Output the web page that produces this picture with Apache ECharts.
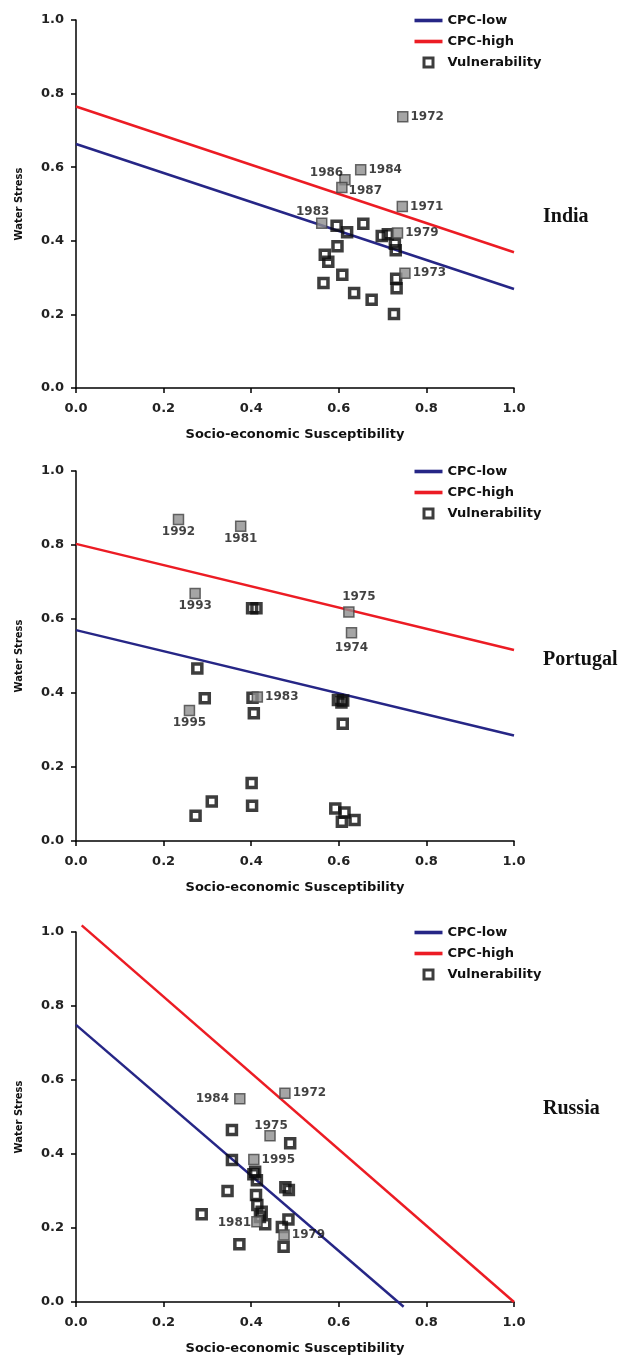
<!DOCTYPE html>
<html><head><meta charset="utf-8">
<script src="https://cdn.jsdelivr.net/npm/echarts@6/dist/echarts.min.js"></script>
<style>html,body{margin:0;padding:0;background:#fff}#c{width:620px;height:1360px}</style>
</head><body><div id="c"></div><script>
// ---- data ----
const countries = ['India', 'Portugal', 'Russia'];
const xTitle = 'Socio-economic Susceptibility';
const yTitle = 'Water Stress';
const legendNames = ['CPC-low', 'CPC-high', 'Vulnerability'];

const indiaCpcLow = [[0, 0.663], [1, 0.269]];
const indiaCpcHigh = [[0, 0.765], [1, 0.369]];
const indiaPoints = [[0.595,0.441],[0.619,0.423],[0.656,0.446],[0.597,0.385],[0.568,0.362],[0.576,0.343],[0.608,0.308],[0.565,0.285],[0.635,0.258],[0.675,0.240],[0.726,0.201],[0.731,0.297],[0.732,0.271],[0.698,0.413],[0.712,0.418],[0.728,0.392],[0.730,0.374]];
const indiaYears = [[0.746,0.737,'1972'],[0.650,0.593,'1984'],[0.614,0.566,'1986'],[0.607,0.545,'1987'],[0.745,0.493,'1971'],[0.561,0.448,'1983'],[0.734,0.421,'1979'],[0.751,0.312,'1973']];

const portugalCpcLow = [[0, 0.570], [1, 0.285]];
const portugalCpcHigh = [[0, 0.803], [1, 0.516]];
const portugalPoints = [[0.402,0.629],[0.412,0.629],[0.277,0.466],[0.294,0.386],[0.403,0.387],[0.406,0.345],[0.598,0.381],[0.606,0.374],[0.610,0.380],[0.609,0.317],[0.401,0.157],[0.402,0.095],[0.310,0.107],[0.273,0.068],[0.592,0.088],[0.613,0.077],[0.607,0.052],[0.636,0.057]];
const portugalYears = [[0.234,0.869,'1992'],[0.376,0.851,'1981'],[0.272,0.669,'1993'],[0.623,0.619,'1975'],[0.629,0.563,'1974'],[0.414,0.389,'1983'],[0.259,0.353,'1995']];

const russiaCpcLow = [[0, 0.749], [0.748, -0.013]];
const russiaCpcHigh = [[0.013, 1.018], [1, 0]];
const russiaPoints = [[0.356,0.465],[0.489,0.429],[0.356,0.384],[0.409,0.352],[0.413,0.329],[0.405,0.345],[0.346,0.300],[0.478,0.310],[0.486,0.303],[0.411,0.289],[0.414,0.262],[0.424,0.244],[0.420,0.230],[0.432,0.210],[0.287,0.237],[0.485,0.223],[0.470,0.203],[0.474,0.149],[0.373,0.156]];
const russiaYears = [[0.374,0.549,'1984'],[0.477,0.564,'1972'],[0.443,0.449,'1975'],[0.406,0.385,'1995'],[0.413,0.217,'1981'],[0.475,0.181,'1979']];

// ---- layout / style (not data) ----
const panelTops = [20, 471, 932];
const panelHeights = [368, 370, 370];
const countryLabelTop = [207, 650, 1099];
const labelPlacement = {
  India: { '1986': ['left', [4, -7], 0], '1987': ['right', [0, 3], 1], '1983': ['top', [-9, 2], 2] },
  Portugal: { '1992': ['bottom', [0, 0], 1], '1981': ['bottom', [0, 0], 1], '1993': ['bottom', [0, 0], 1],
              '1975': ['top', [10, 0], 3], '1974': ['bottom', [0, 0], 3], '1995': ['bottom', [0, 0], 1] },
  Russia: { '1984': ['left', [0, 0], 5], '1975': ['top', [1, 0], -2], '1981': ['left', [0, 1], 0] }
};
const FONT = 'DejaVu Sans';
const BLUE = '#262686', RED = '#ec1c24', INK = '#0c0c0c';
const lineIcon = 'path://M0,0M0,3.2L28,3.2L28,6.8L0,6.8ZM28,10';
const squareIcon = 'path://M0,0M9.5,0.5L18.5,0.5L18.5,9.5L9.5,9.5ZM28,10';

const datasets = [
  { low: indiaCpcLow, high: indiaCpcHigh, pts: indiaPoints, yrs: indiaYears },
  { low: portugalCpcLow, high: portugalCpcHigh, pts: portugalPoints, yrs: portugalYears },
  { low: russiaCpcLow, high: russiaCpcHigh, pts: russiaPoints, yrs: russiaYears }
];

const grid = [], xAxis = [], yAxis = [], series = [], legend = [], title = [];
countries.forEach((c, i) => {
  grid.push({ left: 76, width: 438, top: panelTops[i], height: panelHeights[i] });
  const axisCommon = {
    type: 'value', gridIndex: i, min: 0, max: 1, interval: 0.2,
    axisLine: { show: true, onZero: false, lineStyle: { color: '#000', width: 1.5 } },
    axisTick: { show: true, length: 5, lineStyle: { color: '#000', width: 1.5 } },
    splitLine: { show: false },
    nameLocation: 'middle'
  };
  const lbl = { formatter: v => v.toFixed(1), fontFamily: FONT, fontWeight: 'bold', fontSize: 13, color: '#222' };
  xAxis.push(Object.assign({}, axisCommon, {
    axisLabel: Object.assign({ margin: 14 }, lbl),
    name: xTitle, nameGap: 40,
    nameTextStyle: { fontFamily: FONT, fontWeight: 'bold', fontSize: 13, color: '#111' }
  }));
  yAxis.push(Object.assign({}, axisCommon, {
    axisLabel: Object.assign({ margin: 12 }, lbl),
    name: yTitle, nameGap: 52, nameRotate: 90,
    nameTextStyle: { fontFamily: FONT, fontWeight: 'bold', fontSize: 10, color: '#111' }
  }));
  const d = datasets[i];
  series.push({ type: 'line', name: 'CPC-low', xAxisIndex: i, yAxisIndex: i, data: d.low, symbol: 'none',
    clip: false, silent: true, lineStyle: { color: BLUE, width: 2.5 }, itemStyle: { color: BLUE }, z: 2 });
  series.push({ type: 'line', name: 'CPC-high', xAxisIndex: i, yAxisIndex: i, data: d.high, symbol: 'none',
    clip: false, silent: true, lineStyle: { color: RED, width: 2.5 }, itemStyle: { color: RED }, z: 2 });
  const place = labelPlacement[c] || {};
  const data = d.pts.map(p => ({ value: [p[0], p[1]] })).concat(d.yrs.map(p => {
    const pl = place[p[2]] || ['right', [0, 0], 2];
    return {
      value: [p[0], p[1]], name: p[2], symbolSize: 10,
      itemStyle: { color: '#8e8e8e', borderColor: '#444', borderWidth: 1.5 },
      label: { show: true, formatter: p[2], position: pl[0], offset: pl[1], distance: pl[2],
        fontFamily: FONT, fontWeight: 'bold', fontSize: 12, color: '#111' }
    };
  }));
  series.push({ type: 'scatter', name: 'Vulnerability', xAxisIndex: i, yAxisIndex: i, data,
    symbol: 'rect', symbolSize: 9, z: 3,
    itemStyle: { color: 'rgba(255,255,255,0)', borderColor: INK, borderWidth: 3.5 } });
  legend.push({ orient: 'vertical', left: 413, top: panelTops[i] - 6, padding: 0,
    itemWidth: 28, itemHeight: 10, itemGap: 8, selectedMode: false,
    data: [
      { name: 'CPC-low', icon: lineIcon, itemStyle: { color: BLUE, borderWidth: 0 } },
      { name: 'CPC-high', icon: lineIcon, itemStyle: { color: RED, borderWidth: 0 } },
      { name: 'Vulnerability', icon: squareIcon, itemStyle: { color: 'rgba(255,255,255,0)', borderColor: INK, borderWidth: 3 } }
    ],
    textStyle: { fontFamily: FONT, fontWeight: 'bold', fontSize: 13, color: '#111' } });
  title.push({ text: c, left: 543, top: countryLabelTop[i], padding: 0,
    textStyle: { fontFamily: 'Liberation Serif', fontWeight: 'bold', fontSize: 20, color: '#111' } });
});

const chart = echarts.init(document.getElementById('c'), null, { renderer: 'canvas' });
chart.setOption({ animation: false, backgroundColor: '#fff', grid, xAxis, yAxis, series, legend, title });
</script></body></html>
